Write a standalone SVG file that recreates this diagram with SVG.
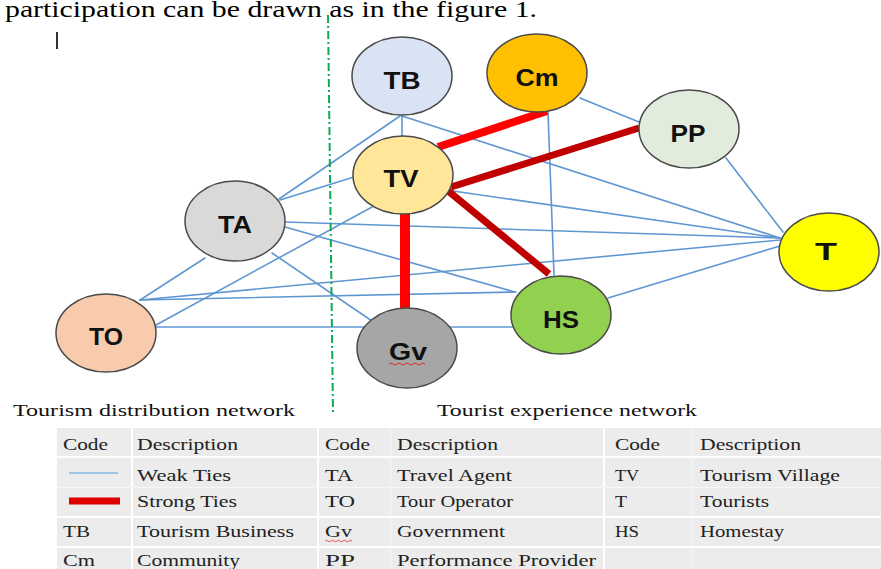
<svg xmlns="http://www.w3.org/2000/svg" width="881" height="569" viewBox="0 0 881 569">
<style>
.weak{stroke:#5f97d2;stroke-width:1.6;fill:none;stroke-linecap:round}
.strong{stroke:#ff0000;stroke-width:8;fill:none}
.dark{stroke:#c00000;stroke-width:7;fill:none}
.node{stroke:#4a4a4a;stroke-width:1.5}
.lbl{font-family:"Liberation Sans",Arial,sans-serif;font-weight:bold;font-size:23px;fill:#111;text-anchor:middle}
.tt{font-family:"Liberation Serif","Times New Roman",serif;font-size:16px;fill:#222}
.cap{font-family:"Liberation Serif","Times New Roman",serif;font-size:17px;fill:#111}
.cell{fill:#ececec}
</style>
<rect width="881" height="569" fill="#ffffff"/>
<text x="5" y="17" font-family="'Liberation Serif','Times New Roman',serif" font-size="23" fill="#000" textLength="532" lengthAdjust="spacingAndGlyphs">participation can be drawn as in the figure 1.</text>
<line x1="57" y1="32" x2="57" y2="49" stroke="#000" stroke-width="1.6"/>

<g id="connectors">
  <line class="weak" x1="402" y1="115" x2="402" y2="137"/>
  <line class="weak" x1="400" y1="116" x2="279" y2="199"/>
  <line class="weak" x1="354" y1="177" x2="280" y2="200"/>
  <line class="weak" x1="402" y1="116" x2="780" y2="238"/>
  <line class="weak" x1="580" y1="98" x2="639" y2="122"/>
  <line class="weak" x1="548" y1="112" x2="554" y2="275"/>
  <line class="weak" x1="726" y1="158" x2="783" y2="232"/>
  <line class="weak" x1="453" y1="191" x2="780" y2="238"/>
  <line class="weak" x1="285" y1="222" x2="780" y2="238"/>
  <line class="weak" x1="285" y1="227" x2="515" y2="292"/>
  <line class="weak" x1="272" y1="253" x2="372" y2="321"/>
  <line class="weak" x1="140" y1="300" x2="205" y2="258"/>
  <line class="weak" x1="140" y1="300" x2="780" y2="240"/>
  <line class="weak" x1="140" y1="300" x2="516" y2="292"/>
  <line class="weak" x1="156" y1="325" x2="372" y2="207"/>
  <line class="weak" x1="156" y1="327" x2="512" y2="327"/>
  <line class="weak" x1="608" y1="298" x2="780" y2="246"/>
  <line class="strong" x1="438" y1="147" x2="547" y2="111"/>
  <line class="dark" x1="451" y1="187" x2="639" y2="128"/>
  <line class="dark" x1="447" y1="190" x2="549" y2="274"/>
  <line class="strong" x1="405" y1="210" x2="405" y2="310" style="stroke-width:10"/>
</g>

<line x1="328" y1="15" x2="333" y2="413" stroke="#10a858" stroke-width="2" stroke-dasharray="8 3 2 3"/>

<g id="node-TB"><ellipse class="node" cx="402" cy="76" rx="50" ry="39" fill="#dae3f3"/><text class="lbl" x="402" y="89" textLength="37" lengthAdjust="spacingAndGlyphs">TB</text></g>
<g id="node-Cm"><ellipse class="node" cx="537" cy="73" rx="50" ry="39" fill="#ffc000"/><text class="lbl" x="537" y="86" textLength="43" lengthAdjust="spacingAndGlyphs">Cm</text></g>
<g id="node-TV"><ellipse class="node" cx="403" cy="175" rx="50" ry="39" fill="#ffe699"/><text class="lbl" x="401" y="187" textLength="35" lengthAdjust="spacingAndGlyphs">TV</text></g>
<g id="node-PP"><ellipse class="node" cx="689" cy="129" rx="50" ry="39" fill="#e2ecdc"/><text class="lbl" x="688" y="142" textLength="35" lengthAdjust="spacingAndGlyphs">PP</text></g>
<g id="node-T"><ellipse class="node" cx="829" cy="252" rx="50" ry="39" fill="#ffff00"/><text class="lbl" x="826" y="260" textLength="22" lengthAdjust="spacingAndGlyphs">T</text></g>
<g id="node-TA"><ellipse class="node" cx="235" cy="221" rx="50" ry="40" fill="#d9d9d9"/><text class="lbl" x="235" y="233" textLength="34" lengthAdjust="spacingAndGlyphs">TA</text></g>
<g id="node-TO"><ellipse class="node" cx="106" cy="333" rx="50" ry="39" fill="#f8cbad"/><text class="lbl" x="106" y="345" textLength="34" lengthAdjust="spacingAndGlyphs">TO</text></g>
<g id="node-Gv"><ellipse class="node" cx="407" cy="348" rx="50" ry="40" fill="#a6a6a6"/><text class="lbl" x="408" y="360" textLength="38" lengthAdjust="spacingAndGlyphs">Gv</text><path d="M389 364 q2 -2 4 0 t4 0 t4 0 t4 0 t4 0 t4 0 t4 0 t4 0 t4 0" fill="none" stroke="#e03030" stroke-width="1"/></g>
<g id="node-HS"><ellipse class="node" cx="561" cy="315" rx="50" ry="39" fill="#92d050"/><text class="lbl" x="561" y="328" textLength="36" lengthAdjust="spacingAndGlyphs">HS</text></g>

<text class="cap" x="13" y="416" textLength="282" lengthAdjust="spacingAndGlyphs">Tourism distribution network</text>
<text class="cap" x="437" y="416" textLength="260" lengthAdjust="spacingAndGlyphs">Tourist experience network</text>

<g id="legend-table">
  <rect x="57" y="428" width="824" height="141" fill="#ffffff"/>
  <g>
    <rect class="cell" x="57" y="428" width="74" height="28"/>
    <rect class="cell" x="133" y="428" width="184" height="28"/>
    <rect class="cell" x="319" y="428" width="284" height="28"/>
    <rect class="cell" x="605" y="428" width="276" height="28"/>
    <rect class="cell" x="57" y="458" width="74" height="58" fill="#efefef"/>
    <rect class="cell" x="133" y="458" width="184" height="58"/>
    <rect class="cell" x="319" y="458" width="284" height="58"/>
    <rect class="cell" x="605" y="458" width="276" height="58"/>
    <rect class="cell" x="57" y="518" width="74" height="28"/>
    <rect class="cell" x="133" y="518" width="184" height="28"/>
    <rect class="cell" x="319" y="518" width="284" height="28"/>
    <rect class="cell" x="605" y="518" width="276" height="28"/>
    <rect class="cell" x="57" y="548" width="74" height="21"/>
    <rect class="cell" x="133" y="548" width="184" height="21"/>
    <rect class="cell" x="319" y="548" width="284" height="21"/>
    <rect class="cell" x="605" y="548" width="276" height="21"/>
    <line x1="57" y1="487.5" x2="881" y2="487.5" stroke="#f6f6f6" stroke-width="1"/>
    <line x1="390.5" y1="428" x2="390.5" y2="569" stroke="#f6f6f6" stroke-width="1"/>
    <line x1="692.5" y1="428" x2="692.5" y2="569" stroke="#f6f6f6" stroke-width="1"/>
  </g>
  <line x1="69" y1="473" x2="118" y2="473" stroke="#9dc3e6" stroke-width="2.2"/>
  <line x1="69" y1="501" x2="120" y2="501" stroke="#e00000" stroke-width="7"/>

  <text class="tt" x="63" y="450" textLength="45" lengthAdjust="spacingAndGlyphs">Code</text>
  <text class="tt" x="137" y="450" textLength="101" lengthAdjust="spacingAndGlyphs">Description</text>
  <text class="tt" x="325" y="450" textLength="45" lengthAdjust="spacingAndGlyphs">Code</text>
  <text class="tt" x="397" y="450" textLength="101" lengthAdjust="spacingAndGlyphs">Description</text>
  <text class="tt" x="615" y="450" textLength="45" lengthAdjust="spacingAndGlyphs">Code</text>
  <text class="tt" x="700" y="450" textLength="101" lengthAdjust="spacingAndGlyphs">Description</text>

  <text class="tt" x="137" y="481" textLength="94" lengthAdjust="spacingAndGlyphs">Weak Ties</text>
  <text class="tt" x="325" y="481" textLength="28" lengthAdjust="spacingAndGlyphs">TA</text>
  <text class="tt" x="397" y="481" textLength="115" lengthAdjust="spacingAndGlyphs">Travel Agent</text>
  <text class="tt" x="615" y="481" textLength="24" lengthAdjust="spacingAndGlyphs">TV</text>
  <text class="tt" x="700" y="481" textLength="140" lengthAdjust="spacingAndGlyphs">Tourism Village</text>

  <text class="tt" x="137" y="507" textLength="100" lengthAdjust="spacingAndGlyphs">Strong Ties</text>
  <text class="tt" x="325" y="507" textLength="30" lengthAdjust="spacingAndGlyphs">TO</text>
  <text class="tt" x="397" y="507" textLength="116" lengthAdjust="spacingAndGlyphs">Tour Operator</text>
  <text class="tt" x="615" y="507" textLength="12" lengthAdjust="spacingAndGlyphs">T</text>
  <text class="tt" x="700" y="507" textLength="69" lengthAdjust="spacingAndGlyphs">Tourists</text>

  <text class="tt" x="63" y="537" textLength="27" lengthAdjust="spacingAndGlyphs">TB</text>
  <text class="tt" x="137" y="537" textLength="157" lengthAdjust="spacingAndGlyphs">Tourism Business</text>
  <text class="tt" x="325" y="537" textLength="27" lengthAdjust="spacingAndGlyphs">Gv</text>
  <path d="M325 541 q1.5 -1.5 3 0 t3 0 t3 0 t3 0 t3 0 t3 0 t3 0 t3 0 t3 0" fill="none" stroke="#e03030" stroke-width="0.8"/>
  <text class="tt" x="397" y="537" textLength="108" lengthAdjust="spacingAndGlyphs">Government</text>
  <text class="tt" x="615" y="537" textLength="24" lengthAdjust="spacingAndGlyphs">HS</text>
  <text class="tt" x="700" y="537" textLength="84" lengthAdjust="spacingAndGlyphs">Homestay</text>

  <text class="tt" x="63" y="566" textLength="32" lengthAdjust="spacingAndGlyphs">Cm</text>
  <text class="tt" x="137" y="566" textLength="103" lengthAdjust="spacingAndGlyphs">Community</text>
  <text class="tt" x="325" y="566" textLength="30" lengthAdjust="spacingAndGlyphs">PP</text>
  <text class="tt" x="397" y="566" textLength="199" lengthAdjust="spacingAndGlyphs">Performance Provider</text>
</g>
</svg>
